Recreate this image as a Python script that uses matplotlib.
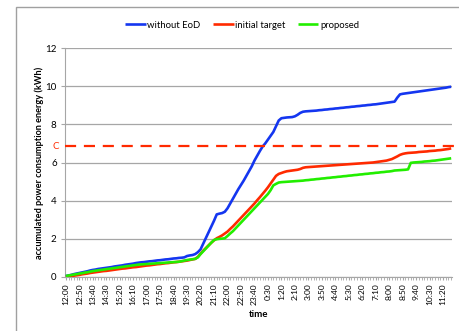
import matplotlib
matplotlib.use("Agg")
import matplotlib.pyplot as plt
from matplotlib.patches import Rectangle

# ---------------- data ----------------
hours = [12, 13, 14, 15, 16, 17, 18, 19, 20, 21, 22, 23, 0, 1, 2, 3, 4, 5, 6, 7, 8, 9, 10, 11]
time_labels = [f"{h}:{m:02d}" for h in hours for m in (0, 10, 20, 30, 40, 50)]

without_eod = [
    0.05, 0.08, 0.11, 0.15, 0.18, 0.21, 0.24, 0.27, 0.30, 0.34, 0.37,
    0.39, 0.42, 0.44, 0.46, 0.48, 0.50, 0.52, 0.55, 0.57, 0.59, 0.61, 0.64, 0.66, 0.68, 0.70, 0.73, 0.75,
    0.77, 0.78, 0.80, 0.82, 0.83, 0.85, 0.87, 0.88, 0.90, 0.92, 0.93, 0.95, 0.97, 0.98, 1.00,
    1.01, 1.03, 1.10, 1.13, 1.15, 1.20, 1.30, 1.45,
    1.75, 2.05, 2.35, 2.65, 2.95, 3.28,
    3.32, 3.35, 3.42,
    3.60, 3.85, 4.10, 4.35, 4.60, 4.82, 5.05, 5.30, 5.55, 5.80, 6.10, 6.35, 6.60, 6.83,
    7.00, 7.20, 7.40, 7.60, 7.90, 8.20, 8.32,
    8.34, 8.36, 8.37, 8.38, 8.42,
    8.50, 8.60, 8.66,
    8.68, 8.69, 8.70, 8.71, 8.72, 8.74, 8.75, 8.77, 8.78, 8.80, 8.81, 8.83, 8.84, 8.86, 8.87, 8.89, 8.90,
    8.92, 8.93, 8.95, 8.96, 8.98, 8.99, 9.01, 9.02, 9.04, 9.05, 9.07, 9.09, 9.11, 9.13, 9.15, 9.17, 9.19,
    9.40, 9.57,
    9.60, 9.62, 9.64, 9.66, 9.68, 9.70, 9.72, 9.74, 9.76, 9.78, 9.80, 9.82, 9.84, 9.86, 9.88, 9.90, 9.92, 9.95, 9.97,
]

initial_target = [
    0.00, 0.02, 0.05, 0.07, 0.09, 0.11, 0.14, 0.16, 0.18, 0.21, 0.23,
    0.25, 0.27, 0.29, 0.31, 0.32, 0.34, 0.36, 0.38, 0.40, 0.42, 0.44, 0.45, 0.47, 0.49, 0.51, 0.52, 0.54,
    0.56, 0.58, 0.60, 0.61, 0.63, 0.65, 0.67, 0.68, 0.70, 0.72, 0.73, 0.75, 0.77, 0.78, 0.80,
    0.82, 0.84, 0.86, 0.89, 0.92, 0.95, 1.05, 1.22,
    1.38, 1.52, 1.66, 1.80, 1.92, 2.03,
    2.10, 2.18, 2.28,
    2.38, 2.52, 2.65, 2.80, 2.95, 3.10, 3.25, 3.40, 3.55, 3.70, 3.85, 4.02, 4.18, 4.35,
    4.52, 4.70, 4.90, 5.10, 5.30, 5.40, 5.45,
    5.50, 5.54, 5.56, 5.58, 5.60,
    5.62, 5.66, 5.72,
    5.75, 5.76, 5.77, 5.78, 5.79, 5.80, 5.81, 5.82, 5.83, 5.84, 5.85, 5.86, 5.87, 5.88, 5.89, 5.90, 5.91,
    5.92, 5.93, 5.94, 5.95, 5.96, 5.97, 5.98, 5.99, 6.00, 6.02, 6.04, 6.06, 6.08, 6.10, 6.14, 6.18, 6.25,
    6.32, 6.40, 6.45, 6.48, 6.50, 6.51, 6.52, 6.53, 6.55, 6.56, 6.57, 6.58, 6.60, 6.61, 6.62, 6.64, 6.65,
    6.67, 6.69, 6.71, 6.74,
]

proposed = [
    0.05, 0.08, 0.10, 0.13, 0.15, 0.18, 0.20, 0.23, 0.25, 0.28, 0.31,
    0.33, 0.35, 0.37, 0.39, 0.41, 0.43, 0.45, 0.47, 0.49, 0.51, 0.53, 0.55, 0.57, 0.59, 0.61, 0.63, 0.65,
    0.66, 0.67, 0.68, 0.69, 0.70, 0.71, 0.72, 0.73, 0.74, 0.75, 0.76, 0.77, 0.78, 0.79, 0.80,
    0.83, 0.86, 0.89, 0.91, 0.93, 0.95, 1.03, 1.20,
    1.35, 1.50, 1.65, 1.80, 1.94, 1.98,
    2.00, 2.01, 2.03,
    2.15, 2.28, 2.40, 2.55, 2.70, 2.85, 3.00, 3.15, 3.30, 3.45, 3.60, 3.75, 3.90, 4.05,
    4.20, 4.35, 4.55, 4.80, 4.88, 4.95, 4.97,
    4.98, 4.99, 5.00, 5.01, 5.02,
    5.03, 5.04, 5.05,
    5.07, 5.08, 5.10, 5.11, 5.13, 5.14, 5.16, 5.17, 5.19, 5.20, 5.22, 5.23, 5.25, 5.26, 5.28, 5.29, 5.31,
    5.32, 5.34, 5.35, 5.37, 5.38, 5.40, 5.41, 5.43, 5.44, 5.46, 5.47, 5.49, 5.50, 5.52, 5.53, 5.55, 5.58,
    5.59, 5.60, 5.61, 5.62, 5.64, 5.98,
    6.00, 6.01, 6.02, 6.03, 6.05, 6.06, 6.07, 6.09, 6.10, 6.12, 6.14, 6.16, 6.18, 6.20, 6.22,
]

capacity_C = 6.86
series_names = ["without EoD", "initial target", "proposed"]

# ---------------- plot ----------------
FONT = "Lato"
plt.rcParams["font.family"] = [FONT, "DejaVu Sans"]

fig = plt.figure(figsize=(4.59, 3.31), dpi=100)
fig.patch.set_facecolor("white")

# outer chart frame (partly outside the crop)
fig.patches.append(Rectangle((16 / 459, -0.1), 1.2, 1 - 7 / 331 + 0.1,
                             transform=fig.transFigure, fill=False,
                             edgecolor="#A0A0A0", linewidth=1.0))

ax = fig.add_axes([65 / 459, 1 - 277 / 331, 387 / 459, 229 / 331])

x = list(range(len(time_labels)))
colors = ["#1436F0", "#FF2A00", "#22EE00"]
for ys, c, name in zip([without_eod, initial_target, proposed], colors, series_names):
    ax.plot(x, ys, color=c, linewidth=1.9, label=name, solid_capstyle="butt", zorder=3)

# capacity line C
ax.plot([-0.3, 146.5], [capacity_C, capacity_C], color="#FF2A00", linestyle=(0, (5, 3.5)),
        linewidth=1.6, clip_on=False, zorder=4)
ax.text(-2.5, capacity_C, "C", color="#FF2A00", fontsize=7, ha="right", va="center")

ax.set_xlim(-0.3, 143.3)
ax.set_ylim(0, 12)
ax.set_yticks(range(0, 13, 2))
ax.yaxis.grid(True, color="#A6A6A6", linewidth=0.9)
ax.set_axisbelow(True)

ax.set_xticks(x[::5])
ax.set_xticklabels(time_labels[::5], rotation=90, fontsize=6.0)
ax.set_xticks(x, minor=True)
ax.tick_params(axis="x", which="both", length=2.5, color="#A6A6A6", pad=2)
ax.tick_params(axis="y", length=3, color="#A6A6A6", labelsize=7, pad=3)

for s in ["top", "right"]:
    ax.spines[s].set_visible(False)
ax.spines["left"].set_color("#A6A6A6")
ax.spines["bottom"].set_color("#A6A6A6")

ax.set_ylabel("accumulated power consumption energy (kWh)", fontsize=6.6,
              fontweight="bold", labelpad=1)
ax.set_xlabel("time", fontsize=7, fontweight="bold", labelpad=4)

leg = fig.legend(loc="center", bbox_to_anchor=(242 / 459, 1 - 25 / 331), ncol=3,
                 frameon=False, fontsize=6.8, handlelength=2.2, handletextpad=0.15,
                 columnspacing=1.3)

fig.savefig("out.png", dpi=100)
